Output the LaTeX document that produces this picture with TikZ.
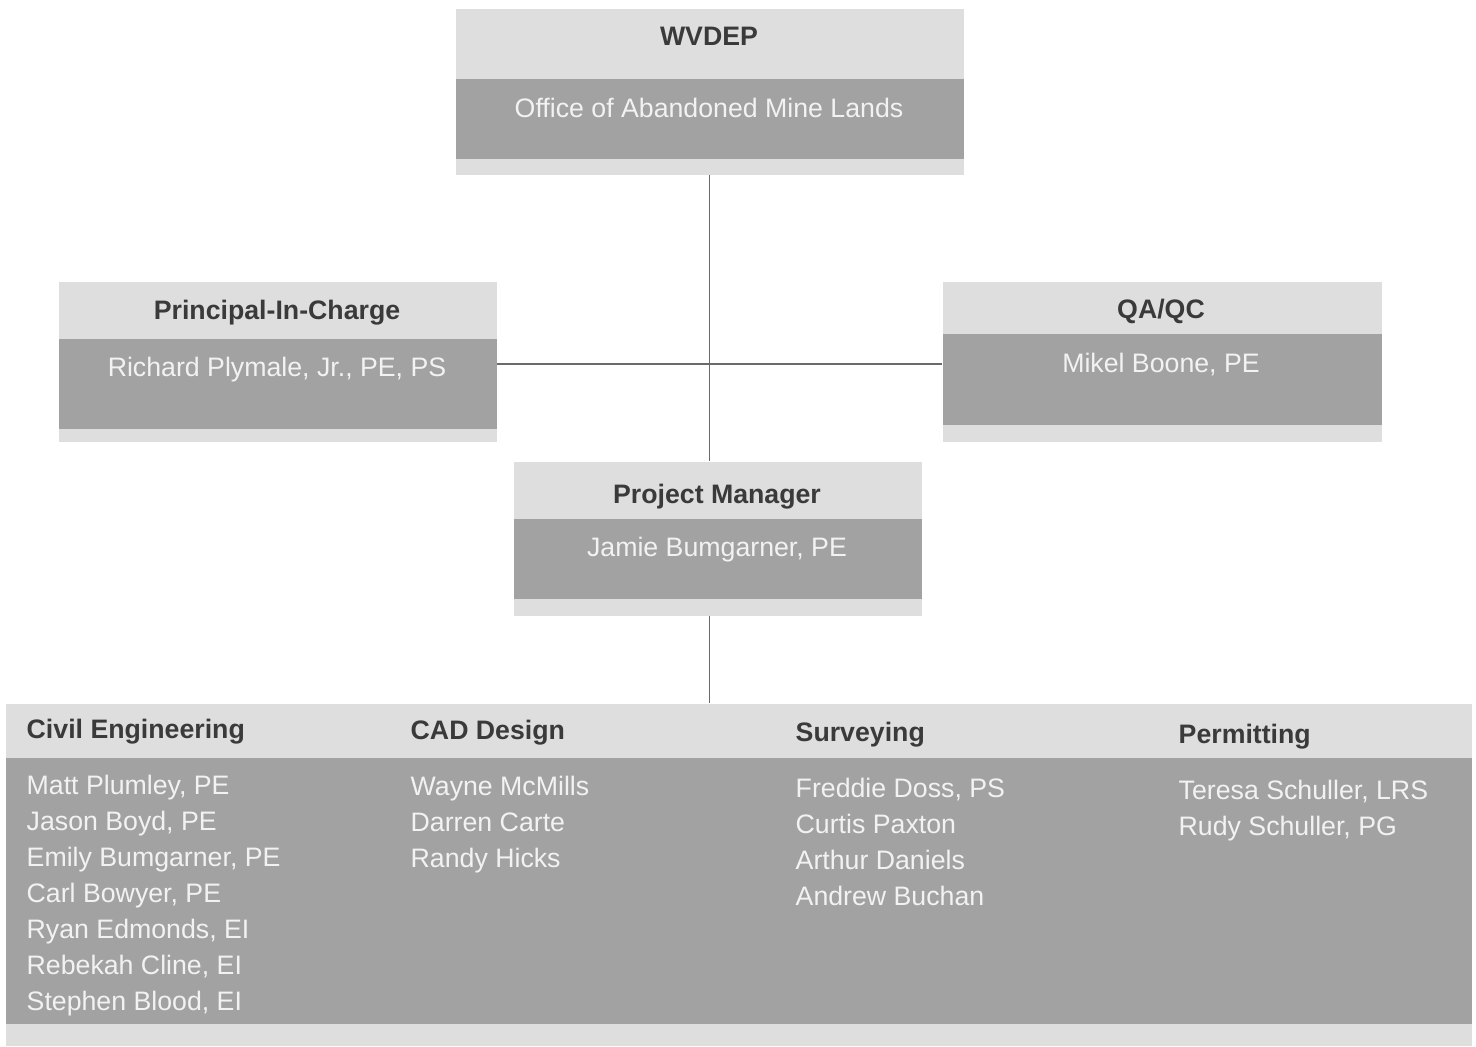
\documentclass[tikz,border=0pt]{standalone}
\usepackage{fontspec}
\setmainfont{Liberation Sans}
\usepackage{tikz}

\definecolor{boxlight}{HTML}{DEDEDE}
\definecolor{boxdark}{HTML}{A2A2A2}
\definecolor{headgray}{HTML}{3A3A3A}
\definecolor{namewhite}{HTML}{F2F2F2}
\definecolor{linegray}{HTML}{6A6A6A}

\begin{document}
\begin{tikzpicture}[x=0.1mm,y=-0.1mm,
  boxouter/.style={fill=boxlight, inner sep=0, anchor=north west},
  boxband/.style={fill=boxdark, inner sep=0, anchor=north west},
  headtext/.style={font=\bfseries\fontsize{7.6}{9}\selectfont, text=headgray, inner sep=0, text height=5.4pt, text depth=0.8pt},
  person/.style={font=\fontsize{7.6}{9}\selectfont, text=namewhite, inner sep=0, text height=5.4pt, text depth=0.8pt},
  link/.style={draw=linegray, line width=0.4pt}]

  \useasboundingbox[fill=white] (0,0) rectangle (1476,1047);

  % WVDEP
  \node[boxouter, minimum width=50.8mm, minimum height=16.6mm] (wv) at (455,8) {};
  \node[boxband, minimum width=50.8mm, minimum height=8mm] (wvband) at (455,78) {};
  \node[headtext] (wvhead) at (709,37) {WVDEP};
  \node[person] (wvtext) at (709,109) {Office of Abandoned Mine Lands};

  % principal in charge
  \node[boxouter, minimum width=43.8mm, minimum height=16mm] (pic) at (58,281) {};
  \node[boxband, minimum width=43.8mm, minimum height=9mm] (picband) at (58,338) {};
  \node[headtext] (pichead) at (277,311) {Principal-In-Charge};
  \node[person] (pictext) at (277,368) {Richard Plymale, Jr., PE, PS};

  % qa/qc
  \node[boxouter, minimum width=43.9mm, minimum height=16mm] (qa) at (942,281) {};
  \node[boxband, minimum width=43.9mm, minimum height=9.1mm] (qaband) at (942,333) {};
  \node[headtext] (qahead) at (1161,310) {QA/QC};
  \node[person] (qatext) at (1161,364) {Mikel Boone, PE};

  % project manager
  \node[boxouter, minimum width=40.8mm, minimum height=15.4mm] (pm) at (513,461) {};
  \node[boxband, minimum width=40.8mm, minimum height=8mm] (pmband) at (513,518) {};
  \node[headtext] (pmhead) at (717,495) {Project Manager};
  \node[person] (pmtext) at (717,548) {Jamie Bumgarner, PE};

  % team
  \node[boxouter, minimum width=146.6mm, minimum height=34.2mm] (team) at (5,703) {};
  \node[boxband, minimum width=146.6mm, minimum height=26.6mm] (teamband) at (5,757) {};

  \node[headtext, anchor=west] (civhead) at (26,730) {Civil Engineering};
  \node[headtext, anchor=west] (cadhead) at (410,731) {CAD Design};
  \node[headtext, anchor=west] (survhead) at (795,733) {Surveying};
  \node[headtext, anchor=west] (permhead) at (1178,735) {Permitting};

  \foreach \nm [count=\i] in {{Matt Plumley, PE},{Jason Boyd, PE},{Emily Bumgarner, PE},{Carl Bowyer, PE},{Ryan Edmonds, EI},{Rebekah Cline, EI},{Stephen Blood, EI}}
    \node[person, anchor=west] (civ-\i) at (26,750+36*\i) {\nm};
  \foreach \nm [count=\i] in {Wayne McMills,Darren Carte,Randy Hicks}
    \node[person, anchor=west] (cad-\i) at (410,751+36*\i) {\nm};
  \foreach \nm [count=\i] in {{Freddie Doss, PS},Curtis Paxton,Arthur Daniels,Andrew Buchan}
    \node[person, anchor=west] (surv-\i) at (795,753+36*\i) {\nm};
  \foreach \nm [count=\i] in {{Teresa Schuller, LRS},{Rudy Schuller, PG}}
    \node[person, anchor=west] (perm-\i) at (1178,755+36*\i) {\nm};

  % lines
  \draw[link] (wv.south) -- (wv.south |- pm.north);
  \draw[link] (pic.east |- qatext) -- (qa.west |- qatext);
  \draw[link] (pm.south -| wv.south) -- (team.north -| wv.south);

\end{tikzpicture}
\end{document}
